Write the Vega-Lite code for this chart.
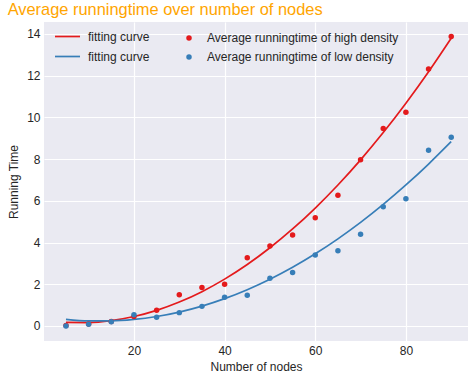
{
  "$schema": "https://vega.github.io/schema/vega-lite/v6.json",
  "width": 424,
  "height": 319,
  "autosize": {"type": "none"},
  "padding": {"left": 44, "top": 22, "right": 0, "bottom": 38},
  "background": "white",
  "config": {
    "font": "Liberation Sans",
    "view": {"fill": "#EAEAF2", "stroke": null},
    "axis": {
      "domain": false,
      "ticks": false,
      "gridColor": "white",
      "gridWidth": 1.2,
      "labelFontSize": 12,
      "labelColor": "#262626",
      "titleFontSize": 12,
      "titleColor": "#262626",
      "titleFontWeight": "normal",
      "labelPadding": 4
    },
    "legend": {
      "labelFontSize": 12,
      "labelColor": "#262626",
      "labelLimit": 0,
      "orient": "none"
    }
  },
  "title": {
    "text": "Average runningtime over number of nodes",
    "anchor": "start",
    "color": "#FFA500",
    "fontSize": 16.4,
    "fontWeight": "normal",
    "offset": 4
  },
  "resolve": {
    "scale": {"fill": "independent", "stroke": "independent"},
    "legend": {"fill": "independent", "stroke": "independent"}
  },
  "datasets": {
    "pts": [
      {"nodes": 5, "time": 0.02, "series": "Average runningtime of high density"},
      {"nodes": 10, "time": 0.1, "series": "Average runningtime of high density"},
      {"nodes": 15, "time": 0.22, "series": "Average runningtime of high density"},
      {"nodes": 20, "time": 0.46, "series": "Average runningtime of high density"},
      {"nodes": 25, "time": 0.75, "series": "Average runningtime of high density"},
      {"nodes": 30, "time": 1.5, "series": "Average runningtime of high density"},
      {"nodes": 35, "time": 1.84, "series": "Average runningtime of high density"},
      {"nodes": 40, "time": 2.0, "series": "Average runningtime of high density"},
      {"nodes": 45, "time": 3.27, "series": "Average runningtime of high density"},
      {"nodes": 50, "time": 3.83, "series": "Average runningtime of high density"},
      {"nodes": 55, "time": 4.36, "series": "Average runningtime of high density"},
      {"nodes": 60, "time": 5.19, "series": "Average runningtime of high density"},
      {"nodes": 65, "time": 6.27, "series": "Average runningtime of high density"},
      {"nodes": 70, "time": 7.97, "series": "Average runningtime of high density"},
      {"nodes": 75, "time": 9.46, "series": "Average runningtime of high density"},
      {"nodes": 80, "time": 10.24, "series": "Average runningtime of high density"},
      {"nodes": 85, "time": 12.32, "series": "Average runningtime of high density"},
      {"nodes": 90, "time": 13.88, "series": "Average runningtime of high density"},
      {"nodes": 5, "time": 0.0, "series": "Average runningtime of low density"},
      {"nodes": 10, "time": 0.08, "series": "Average runningtime of low density"},
      {"nodes": 15, "time": 0.2, "series": "Average runningtime of low density"},
      {"nodes": 20, "time": 0.54, "series": "Average runningtime of low density"},
      {"nodes": 25, "time": 0.42, "series": "Average runningtime of low density"},
      {"nodes": 30, "time": 0.64, "series": "Average runningtime of low density"},
      {"nodes": 35, "time": 0.94, "series": "Average runningtime of low density"},
      {"nodes": 40, "time": 1.38, "series": "Average runningtime of low density"},
      {"nodes": 45, "time": 1.47, "series": "Average runningtime of low density"},
      {"nodes": 50, "time": 2.29, "series": "Average runningtime of low density"},
      {"nodes": 55, "time": 2.56, "series": "Average runningtime of low density"},
      {"nodes": 60, "time": 3.4, "series": "Average runningtime of low density"},
      {"nodes": 65, "time": 3.61, "series": "Average runningtime of low density"},
      {"nodes": 70, "time": 4.4, "series": "Average runningtime of low density"},
      {"nodes": 75, "time": 5.72, "series": "Average runningtime of low density"},
      {"nodes": 80, "time": 6.1, "series": "Average runningtime of low density"},
      {"nodes": 85, "time": 8.42, "series": "Average runningtime of low density"},
      {"nodes": 90, "time": 9.05, "series": "Average runningtime of low density"}
    ],
    "fit": [
      {"nodes": 5, "time": 0.17, "curve": "high"},
      {"nodes": 10, "time": 0.164, "curve": "high"},
      {"nodes": 15, "time": 0.258, "curve": "high"},
      {"nodes": 20, "time": 0.454, "curve": "high"},
      {"nodes": 25, "time": 0.75, "curve": "high"},
      {"nodes": 30, "time": 1.148, "curve": "high"},
      {"nodes": 35, "time": 1.646, "curve": "high"},
      {"nodes": 40, "time": 2.246, "curve": "high"},
      {"nodes": 45, "time": 2.946, "curve": "high"},
      {"nodes": 50, "time": 3.748, "curve": "high"},
      {"nodes": 55, "time": 4.65, "curve": "high"},
      {"nodes": 60, "time": 5.654, "curve": "high"},
      {"nodes": 65, "time": 6.758, "curve": "high"},
      {"nodes": 70, "time": 7.964, "curve": "high"},
      {"nodes": 75, "time": 9.27, "curve": "high"},
      {"nodes": 80, "time": 10.678, "curve": "high"},
      {"nodes": 85, "time": 12.186, "curve": "high"},
      {"nodes": 90, "time": 13.796, "curve": "high"},
      {"nodes": 5, "time": 0.32, "curve": "low"},
      {"nodes": 10, "time": 0.246, "curve": "low"},
      {"nodes": 15, "time": 0.243, "curve": "low"},
      {"nodes": 20, "time": 0.312, "curve": "low"},
      {"nodes": 25, "time": 0.454, "curve": "low"},
      {"nodes": 30, "time": 0.667, "curve": "low"},
      {"nodes": 35, "time": 0.952, "curve": "low"},
      {"nodes": 40, "time": 1.31, "curve": "low"},
      {"nodes": 45, "time": 1.739, "curve": "low"},
      {"nodes": 50, "time": 2.24, "curve": "low"},
      {"nodes": 55, "time": 2.813, "curve": "low"},
      {"nodes": 60, "time": 3.458, "curve": "low"},
      {"nodes": 65, "time": 4.175, "curve": "low"},
      {"nodes": 70, "time": 4.964, "curve": "low"},
      {"nodes": 75, "time": 5.825, "curve": "low"},
      {"nodes": 80, "time": 6.758, "curve": "low"},
      {"nodes": 85, "time": 7.762, "curve": "low"},
      {"nodes": 90, "time": 8.839, "curve": "low"}
    ]
  },
  "layer": [
    {
      "data": {"name": "fit"},
      "mark": {"type": "line", "strokeWidth": 1.7, "interpolate": "monotone"},
      "encoding": {
        "x": {"field": "nodes", "type": "quantitative", "scale": {"domain": [0.15, 93.7], "nice": false, "zero": false}, "axis": {"values": [20, 40, 60, 80], "title": "Number of nodes", "titlePadding": 5}},
        "y": {"field": "time", "type": "quantitative", "scale": {"domain": [-0.72, 14.57], "nice": false, "zero": false}, "axis": {"values": [0, 2, 4, 6, 8, 10, 12, 14], "title": "Running Time", "titlePadding": 6}},
        "stroke": {
          "field": "curve",
          "type": "nominal",
          "scale": {"domain": ["high", "low"], "range": ["#E41A1C", "#377EB8"]},
          "legend": {
            "title": null,
            "symbolType": "stroke",
            "symbolSize": 625,
            "symbolStrokeWidth": 1.7,
            "rowPadding": -7,
            "labelOffset": 7,
            "labelExpr": "'fitting curve'",
            "legendX": 10,
            "legendY": 1
          }
        }
      }
    },
    {
      "data": {"name": "pts"},
      "mark": {"type": "circle", "size": 30, "opacity": 1},
      "encoding": {
        "x": {"field": "nodes", "type": "quantitative"},
        "y": {"field": "time", "type": "quantitative"},
        "fill": {
          "field": "series",
          "type": "nominal",
          "scale": {"domain": ["Average runningtime of high density", "Average runningtime of low density"], "range": ["#E41A1C", "#377EB8"]},
          "legend": {
            "title": null,
            "symbolType": "circle",
            "symbolSize": 30,
            "rowPadding": 7,
            "labelOffset": 12,
            "legendX": 139,
            "legendY": 10
          }
        }
      }
    }
  ]
}
